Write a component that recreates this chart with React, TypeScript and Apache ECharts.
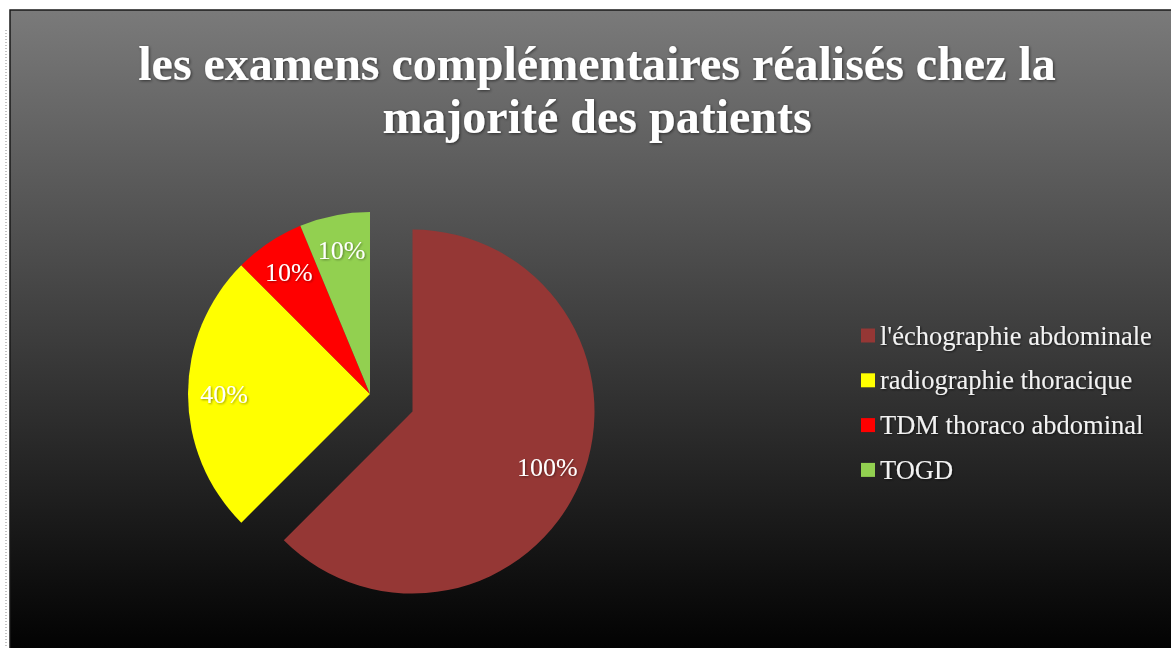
import React, { useEffect, useRef } from "react";
import * as echarts from "echarts";

const categories = [
  "l'échographie abdominale",
  "radiographie thoracique",
  "TDM thoraco abdominal",
  "TOGD",
];
const values = [100, 40, 10, 10];
const colors = ["#953735", "#FFFF00", "#FF0000", "#92D050"];
const titleLines = [
  "les examens complémentaires réalisés chez la",
  "majorité des patients",
];

export default function App() {
  const ref = useRef<HTMLDivElement>(null);
  useEffect(() => {
    const chart = echarts.init(ref.current!, null, { renderer: "svg" });
    const mainData = categories.map((name, i) => ({
      name,
      value: values[i],
      selected: i === 0,
      itemStyle: { color: colors[i] },
      select: { itemStyle: { color: colors[i] } },
    }));
    const labelData = categories.map((name, i) => ({
      name,
      value: values[i],
      selected: i === 0,
    }));
    const center = [370, 394];
    chart.setOption({
      animation: false,
      graphic: [
        {
          type: "rect",
          z: -10,
          silent: true,
          shape: { x: 0, y: 0, width: 1171, height: 648 },
          style: { fill: "#ffffff" },
        },
        {
          type: "rect",
          z: -9,
          silent: true,
          shape: { x: 10, y: 10, width: 1170, height: 650 },
          style: {
            fill: new echarts.graphic.LinearGradient(0, 0, 0, 1, [
              { offset: 0, color: "#7a7a7a" },
              { offset: 1, color: "#000000" },
            ]),
            stroke: "#1a1a1a",
            lineWidth: 1.5,
          },
        },
        {
          type: "line",
          z: -9,
          silent: true,
          shape: { x1: 6, y1: 30, x2: 6, y2: 648 },
          style: { stroke: "#b0b0b0", lineWidth: 1.5, lineDash: [1, 2] },
        },
        {
          type: "text",
          z: 10,
          silent: true,
          x: 597,
          y: 36.5,
          style: {
            text: titleLines.join("\n"),
            textAlign: "center",
            textVerticalAlign: "top",
            fontFamily: "Liberation Serif",
            fontWeight: "bold",
            fontSize: 48,
            lineHeight: 53,
            fill: "#ffffff",
            textShadowColor: "rgba(0,0,0,0.55)",
            textShadowBlur: 3,
            textShadowOffsetX: 1,
            textShadowOffsetY: 1,
          },
        },
      ],
      legend: {
        orient: "vertical",
        left: 856,
        top: 317,
        itemWidth: 14,
        itemHeight: 14,
        itemGap: 17.8,
        icon: "rect",
        selectedMode: false,
        data: categories.map((name, i) => ({
          name,
          itemStyle: { color: colors[i] },
        })),
        textStyle: {
          fontFamily: "Liberation Serif",
          fontSize: 26.5,
          color: "#f2f2f2",
          textShadowColor: "rgba(0,0,0,0.6)",
          textShadowBlur: 2,
          textShadowOffsetX: 1,
          textShadowOffsetY: 1,
        },
      },
      series: [
        {
          type: "pie",
          center,
          radius: [0, 182],
          startAngle: 90,
          clockwise: true,
          selectedMode: "single",
          selectedOffset: 46,
          data: mainData,
          label: { show: false },
          labelLine: { show: false },
          emphasis: { disabled: true },
          silent: true,
        },
        {
          type: "pie",
          center,
          radius: [104, 182],
          startAngle: 90,
          clockwise: true,
          selectedMode: "single",
          selectedOffset: 46,
          data: labelData,
          itemStyle: { color: "rgba(0,0,0,0)" },
          select: { itemStyle: { color: "rgba(0,0,0,0)" } },
          emphasis: { disabled: true },
          silent: true,
          label: {
            show: true,
            position: "inside",
            formatter: "{c}%",
            fontFamily: "Liberation Serif",
            fontSize: 26,
            color: "#ffffff",
            textShadowColor: "rgba(0,0,0,0.4)",
            textShadowBlur: 2,
            textShadowOffsetX: 1,
            textShadowOffsetY: 1,
          },
          labelLine: { show: false },
        },
      ],
    });
    return () => chart.dispose();
  }, []);
  return (
    <div
      ref={ref}
      style={{ position: "fixed", left: 0, top: 0, width: 1171, height: 648 }}
    />
  );
}
